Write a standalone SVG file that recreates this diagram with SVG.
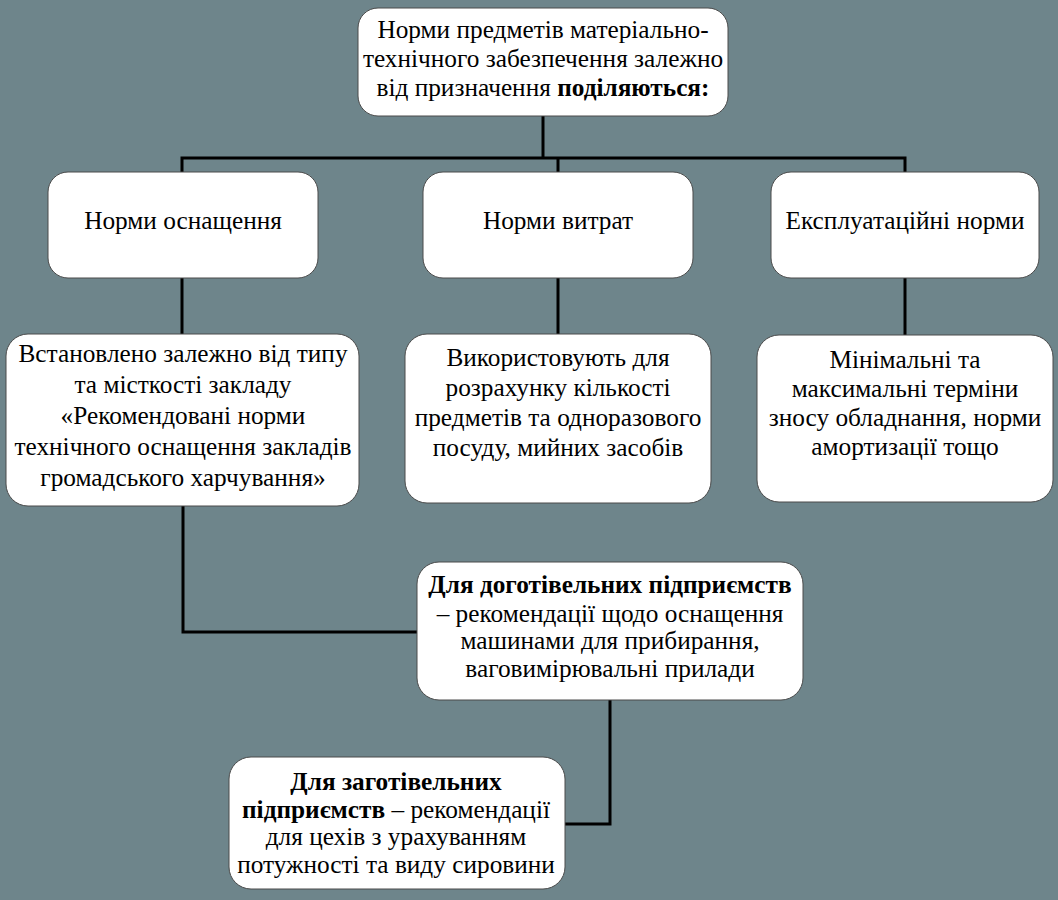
<svg xmlns="http://www.w3.org/2000/svg" width="1058" height="900" viewBox="0 0 1058 900">
<style>
.bg{fill:#6e858b}
.box{fill:#ffffff;stroke:#4a4a4a;stroke-width:1}
.t{font-family:'Liberation Serif','Times New Roman',serif;font-size:25.3px;fill:#000;text-anchor:middle}
.b{font-weight:bold}
.c{fill:none;stroke:#000;stroke-width:3}
</style>
<rect class="bg" x="0" y="0" width="1058" height="900"/>
<g id="connectors">
<path class="c" d="M543,116 V158"/>
<path class="c" d="M182,172 V158 H905 V172"/>
<path class="c" d="M558,158 V172"/>
<path class="c" d="M182,278 V334"/>
<path class="c" d="M558,278 V334"/>
<path class="c" d="M905,278 V335"/>
<path class="c" d="M183,506 V632 H417"/>
<path class="c" d="M610,700 V824 H565"/>
</g>
<g id="root">
<rect class="box" x="358" y="8" width="370" height="108" rx="20"/>
<text class="t" x="543" y="38">Норми предметів матеріально-</text>
<text class="t" x="543" y="67">технічного забезпечення залежно</text>
<text class="t" x="543" y="96">від призначення <tspan class="b">поділяються:</tspan></text>
</g>
<g id="n-osn">
<rect class="box" x="48" y="172" width="270" height="106" rx="20"/>
<text class="t" x="183" y="229">Норми оснащення</text>
</g>
<g id="n-vytr">
<rect class="box" x="423" y="172" width="270" height="106" rx="20"/>
<text class="t" x="558" y="229">Норми витрат</text>
</g>
<g id="n-eksp">
<rect class="box" x="771" y="172" width="268" height="106" rx="20"/>
<text class="t" x="905" y="229">Експлуатаційні норми</text>
</g>
<g id="d-osn">
<rect class="box" x="6" y="334" width="353" height="172" rx="22"/>
<text class="t" x="183" y="362">Встановлено залежно від типу</text>
<text class="t" x="183" y="393">та місткості закладу</text>
<text class="t" x="183" y="424">«Рекомендовані норми</text>
<text class="t" x="183" y="455">технічного оснащення закладів</text>
<text class="t" x="183" y="486">громадського харчування»</text>
</g>
<g id="d-vytr">
<rect class="box" x="405" y="334" width="306" height="169" rx="22"/>
<text class="t" x="558" y="366">Використовують для</text>
<text class="t" x="558" y="396">розрахунку кількості</text>
<text class="t" x="558" y="426">предметів та одноразового</text>
<text class="t" x="558" y="456">посуду, мийних засобів</text>
</g>
<g id="d-eksp">
<rect class="box" x="757" y="335" width="296" height="167" rx="22"/>
<text class="t" x="905" y="368">Мінімальні та</text>
<text class="t" x="905" y="397">максимальні терміни</text>
<text class="t" x="905" y="426">зносу обладнання, норми</text>
<text class="t" x="905" y="455">амортизації тощо</text>
</g>
<g id="dogot">
<rect class="box" x="417" y="562" width="386" height="138" rx="22"/>
<text class="t b" x="610" y="593">Для доготівельних підприємств</text>
<text class="t" x="610" y="622">– рекомендації щодо оснащення</text>
<text class="t" x="610" y="649">машинами для прибирання,</text>
<text class="t" x="610" y="677">ваговимірювальні прилади</text>
</g>
<g id="zagot">
<rect class="box" x="229" y="757" width="336" height="132" rx="22"/>
<text class="t b" x="396" y="790">Для заготівельних</text>
<text class="t" x="396" y="818"><tspan class="b">підприємств</tspan> – рекомендації</text>
<text class="t" x="396" y="845">для цехів з урахуванням</text>
<text class="t" x="396" y="873">потужності та виду сировини</text>
</g>
</svg>
